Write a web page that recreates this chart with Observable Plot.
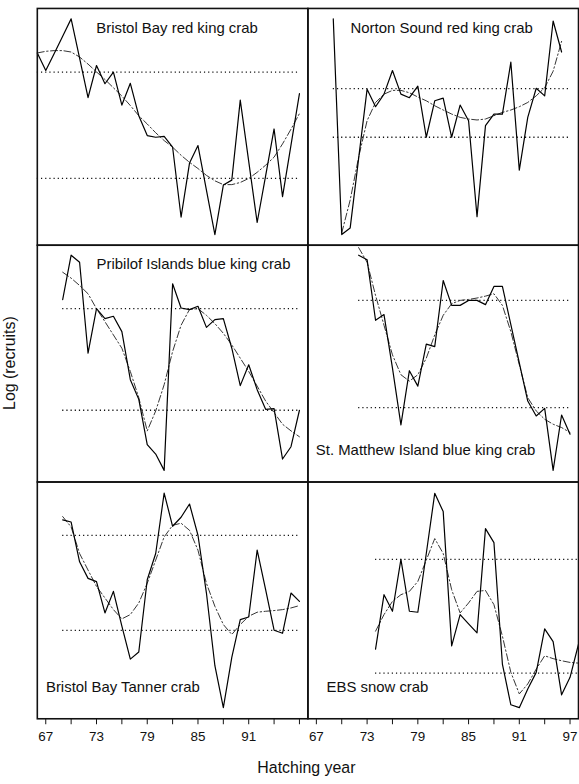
<!DOCTYPE html>
<html>
<head>
<meta charset="utf-8">
<script src="https://cdn.jsdelivr.net/npm/d3@7"></script>
<script src="https://cdn.jsdelivr.net/npm/@observablehq/plot@0.6"></script>
<style>
  html, body { margin: 0; padding: 0; background: #fff; overflow: hidden; width: 579px; height: 784px; }
  #chart { position: relative; width: 579px; height: 784px; }
</style>
</head>
<body>
<div id="chart"></div>
<script>
// ---- data (relative log recruits; the y axis has no scale) ----
const panelNames = [
  "Bristol Bay red king crab",
  "Norton Sound red king crab",
  "Pribilof Islands blue king crab",
  "St. Matthew Island blue king crab",
  "Bristol Bay Tanner crab",
  "EBS snow crab"
];
const panelCol = [0, 1, 0, 1, 0, 1];
const panelRow = [0, 0, 1, 1, 2, 2];

const recruitStart = [66, 69, 69, 72, 69, 74];
const smoothStart  = [66, 70, 69, 72, 69, 74];

const bbRedKing = [81.2, 73.8, 81.0, 88.3, 95.6, 79.0, 62.3, 75.9, 68.2, 73.1, 59.2, 68.4, 54.7, 46.3, 45.6, 46.0,
  41.4, 11.9, 34.7, 42.1, 23.3, 4.5, 25.4, 27.5, 61.3, 35.4, 9.6, 29.3, 49.1, 20.5, 42.3, 64.0];
const bbRedKingSmooth = [81.2, 81.9, 82.2, 82.2, 81.6, 79.5, 76.5, 73.2, 70.0, 66.5, 63.0, 59.0, 54.7, 51.2, 47.5, 44.2,
  41.4, 38.0, 35.0, 32.4, 29.5, 27.2, 25.6, 25.6, 26.5, 28.2, 30.8, 33.8, 37.2, 42.8, 49.0, 55.6];

const nsRedKing = [95.6, 4.5, 7.3, 36.7, 65.9, 58.5, 63.8, 73.8, 63.8, 62.3, 67.2, 45.6, 61.0, 62.1, 45.6, 59.2,
  52.6, 12.1, 50.5, 55.4, 55.4, 77.3, 31.7, 54.0, 66.3, 63.1, 94.7, 81.6];
const nsRedKingSmooth = [5.2, 19.1, 37.2, 52.6, 60.3, 63.8, 65.4, 65.4, 64.4, 62.6, 61.0, 58.9, 57.1, 55.4, 54.0,
  53.3, 52.9, 53.3, 54.7, 56.1, 57.1, 58.5, 60.3, 63.1, 66.5, 73.5, 86.1];

const pibBlueKing = [77.0, 95.8, 92.8, 54.4, 73.2, 69.0, 70.0, 63.5, 43.2, 34.9, 15.8, 11.8, 4.9, 83.7, 73.5, 72.8,
  74.2, 65.3, 68.6, 69.0, 56.5, 40.7, 49.5, 39.0, 30.7, 31.0, 9.7, 14.9, 30.3];
const pibBlueKingSmooth = [88.6, 86.1, 83.0, 79.5, 73.2, 67.7, 62.1, 56.5, 46.7, 35.6, 21.6, 30.0, 41.1, 55.1, 66.2,
  72.9, 73.2, 70.4, 66.9, 62.8, 57.9, 52.3, 46.7, 40.5, 34.2, 29.3, 24.4, 21.6, 19.1];

const smBlueKing = [95.8, 93.9, 68.3, 70.7, 48.1, 24.1, 47.0, 40.5, 58.2, 57.2, 85.1, 74.6, 74.6, 76.7, 76.7, 74.9,
  82.6, 82.6, 66.5, 50.3, 34.2, 27.9, 31.1, 4.9, 28.3, 20.2];
const smBlueKingSmooth = [99.0, 92.8, 78.8, 66.2, 53.7, 45.3, 42.6, 45.3, 52.3, 62.1, 70.4, 75.3, 76.7, 77.1, 77.7,
  78.5, 79.5, 74.6, 63.5, 49.5, 35.6, 30.0, 26.5, 24.4, 23.0, 20.9];

const bbTanner = [84.0, 83.1, 66.3, 59.3, 57.9, 44.7, 53.8, 39.1, 25.2, 28.2, 58.7, 69.8, 95.3, 81.3, 85.1, 90.7,
  77.5, 53.1, 22.4, 4.7, 25.9, 41.9, 43.0, 71.2, 54.5, 37.4, 36.1, 53.1, 49.6];
const bbTannerSmooth = [85.4, 81.0, 69.8, 62.8, 55.9, 51.0, 46.1, 42.2, 44.0, 48.9, 57.2, 67.0, 76.8, 81.7, 82.6,
  79.6, 71.2, 57.2, 47.5, 39.8, 35.6, 39.8, 43.3, 45.0, 45.4, 45.7, 46.1, 46.8, 47.8];

const ebsSnow = [29.4, 52.4, 45.4, 67.3, 45.4, 45.0, 69.8, 95.2, 87.5, 30.8, 44.0, 40.1, 36.3, 80.3, 74.4, 23.1,
  5.9, 4.7, 12.6, 19.6, 38.0, 32.6, 10.1, 17.5, 31.5];
const ebsSnowSmooth = [37.0, 44.0, 49.6, 52.4, 53.8, 58.0, 67.0, 76.1, 69.8, 54.5, 44.7, 48.9, 53.8, 54.2, 48.2,
  34.9, 19.6, 10.5, 14.7, 21.0, 26.6, 25.4, 24.5, 23.8, 23.5];

// dotted reference levels (upper, lower) and the years they span
const levelUpper = [73.1, 66.1, 73.2, 76.7, 77.5, 67.3];
const levelLower = [28.2, 45.6, 30.3, 31.4, 37.3, 19.3];
const levelFrom  = [66, 69, 69, 72, 69, 74];
const levelTo    = [97, 97, 97, 97, 97, 98];

// x axis
const xTicks = [67, 70, 73, 76, 79, 82, 85, 88, 91, 94, 97];
const leftTickLabels  = [67, 73, 79, 85, 91];
const rightTickLabels = [67, 73, 79, 85, 91, 97];

// ---- build tables ----
const recruitSeries = [bbRedKing, nsRedKing, pibBlueKing, smBlueKing, bbTanner, ebsSnow];
const smoothSeries  = [bbRedKingSmooth, nsRedKingSmooth, pibBlueKingSmooth, smBlueKingSmooth, bbTannerSmooth, ebsSnowSmooth];

const recruitRows = recruitSeries.flatMap((vals, p) =>
  vals.map((v, i) => ({panel: p, col: panelCol[p], row: panelRow[p], year: recruitStart[p] + i, value: v})));
const smoothRows = smoothSeries.flatMap((vals, p) =>
  vals.map((v, i) => ({panel: p, col: panelCol[p], row: panelRow[p], year: smoothStart[p] + i, value: v})));
const levelRows = panelNames.flatMap((n, p) => [levelUpper[p], levelLower[p]].map(l =>
  ({panel: p, col: panelCol[p], row: panelRow[p], level: l, from: levelFrom[p], to: levelTo[p]})));
const tickLabelRows = [
  ...leftTickLabels.map(y => ({col: 0, row: 2, year: y})),
  ...rightTickLabels.map(y => ({col: 1, row: 2, year: y}))
];

// title placement (style only)
const titleStyle = [
  {frameAnchor: "top", textAnchor: "middle", dx: 4.5, dy: 19.7},
  {frameAnchor: "top", textAnchor: "middle", dx: -1.5, dy: 19.7},
  {frameAnchor: "top", textAnchor: "middle", dx: 21, dy: 18.6},
  {frameAnchor: "bottom", textAnchor: "middle", dx: -17.7, dy: -32},
  {frameAnchor: "bottom-left", textAnchor: "start", dx: 8.7, dy: -32},
  {frameAnchor: "bottom-left", textAnchor: "start", dx: 18.7, dy: -32}
];
const titleMarks = panelNames.map((name, p) =>
  Plot.text([{col: panelCol[p], row: panelRow[p], name}], {
    fx: "col", fy: "row", text: "name", fontSize: 15, fill: "#111", lineAnchor: "middle", ...titleStyle[p]
  }));

const font = "'Liberation Sans', Arial, Helvetica, sans-serif";

const svg = Plot.plot({
  width: 582,
  height: 784,
  marginLeft: 36.3,
  marginRight: 0,
  marginTop: 7,
  marginBottom: 61,
  style: {fontFamily: font, background: "#fff", color: "#111", overflow: "visible"},
  x: {domain: [66, 98], ticks: xTicks, tickSize: 6, tickFormat: () => "", label: null},
  y: {domain: [0, 100], axis: null},
  fx: {domain: [0, 1], padding: 0, axis: null},
  fy: {domain: [0, 1, 2], padding: 0, axis: null},
  marks: [
    Plot.ruleY(levelRows, {y: "level", x1: "from", x2: "to", fx: "col", fy: "row",
      stroke: "#111", strokeWidth: 1.3, strokeDasharray: "1.2,3"}),
    Plot.line(smoothRows, {x: "year", y: "value", z: "panel", fx: "col", fy: "row",
      stroke: "#333", strokeWidth: 1, strokeDasharray: "7,2.5,1.5,2.5"}),
    Plot.line(recruitRows, {x: "year", y: "value", z: "panel", fx: "col", fy: "row",
      stroke: "#000", strokeWidth: 1.2}),
    ...titleMarks,
    Plot.text(tickLabelRows, {x: "year", text: d => String(d.year), fx: "col", fy: "row",
      frameAnchor: "bottom", lineAnchor: "middle", dy: 18.5, fontSize: 13.5, fill: "#111"}),
    Plot.frame({stroke: "#111", strokeWidth: 1.6})
  ]
});

const sel = d3.select(svg);
sel.append("text")
  .attr("x", 308).attr("y", 773)
  .attr("text-anchor", "middle").attr("dominant-baseline", "middle")
  .attr("font-size", 16).attr("fill", "#111").attr("font-family", font)
  .text("Hatching year");
sel.append("text")
  .attr("transform", "translate(11,365) rotate(-90)")
  .attr("text-anchor", "middle").attr("dominant-baseline", "middle")
  .attr("font-size", 16).attr("fill", "#111").attr("font-family", font)
  .text("Log (recruits)");

document.getElementById("chart").appendChild(svg);
</script>
</body>
</html>
